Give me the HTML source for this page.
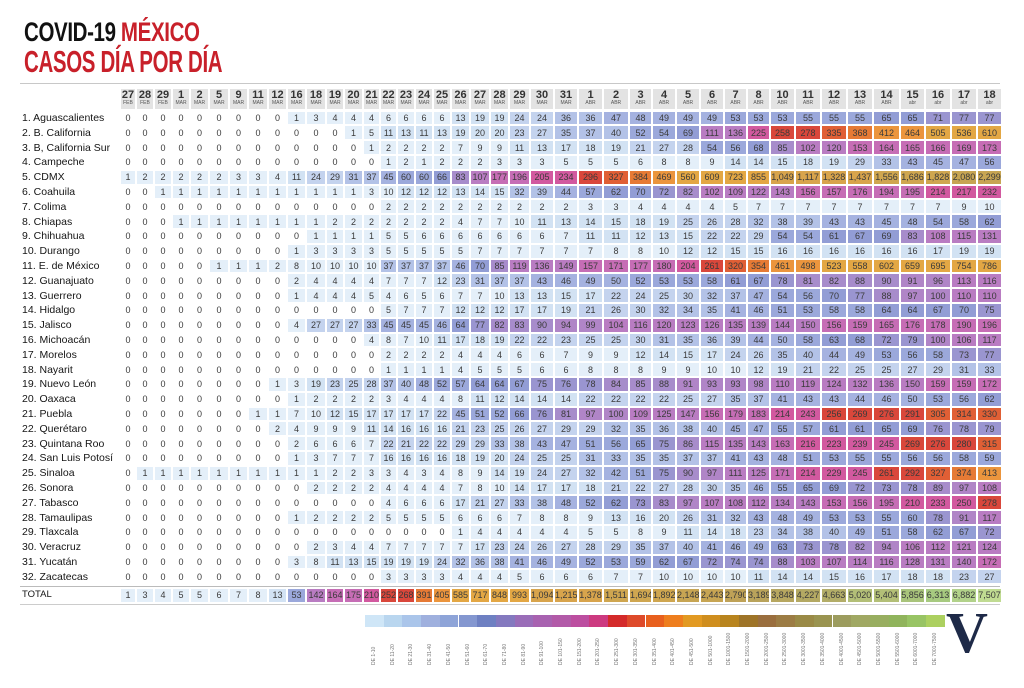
<!DOCTYPE html>
<html><head><meta charset="utf-8">
<style>
body{margin:0;width:1024px;height:688px;background:#fff;position:relative;overflow:hidden;font-family:"Liberation Sans Narrow","Liberation Sans",sans-serif}
.t1{position:absolute;left:24px;top:17px;font-family:"Liberation Sans Narrow","Liberation Sans",sans-serif;font-weight:bold;font-size:27px;line-height:30px;color:#111;transform:scaleX(0.76);transform-origin:left top;letter-spacing:-0.5px;white-space:nowrap}
.t1 span{color:#c8202a}
.t2{position:absolute;left:24px;top:45px;font-family:"Liberation Sans Narrow","Liberation Sans",sans-serif;font-weight:bold;font-size:31px;line-height:34px;color:#c8202a;transform:scaleX(0.66);transform-origin:left top;letter-spacing:-0.5px;white-space:nowrap}
.hr{position:absolute;left:20px;width:980px;height:1px;background:#c8c8c8}
table{position:absolute;left:20px;top:88px;width:982px;border-collapse:separate;border-spacing:0;table-layout:fixed}
td,th{padding:0;box-sizing:border-box;height:14.8px;border:1px solid #fff;background-clip:padding-box;text-align:center;font-size:9px;color:#3a3a3a;line-height:12px;overflow:hidden;white-space:nowrap;font-weight:normal}
th.lb{text-align:left;font-size:10.5px;color:#151515;border:none;padding-left:2px}
tr.hd th{height:22.6px;background:#e3e3e3;line-height:9px;font-weight:bold;font-size:11px;color:#333;border-bottom:2.6px solid #fff}
tr.hd th.lb{background:none}
tr.hd th small{display:block;font-size:5px;line-height:6px;font-weight:normal;color:#555}
tr.sp td{height:4px;border:none}
.a{background:#e4eff9}.b{background:#d2e2f3}.c{background:#c4d3ee}.d{background:#b3c2e7}.e{background:#a5b2e0}.f{background:#9ba8db}.g{background:#929dd5}.h{background:#9a95d0}.i{background:#a78ccb}.j{background:#b085c7}.k{background:#b97cc2}.l{background:#c66db5}.m{background:#d2599f}.n{background:#d9473b}.o{background:#e05f35}.p{background:#e67a35}.q{background:#eb953d}.r{background:#e3a744}.s{background:#d8a44c}.t{background:#cfa650}.u{background:#c7a553}.v{background:#bfa257}.w{background:#b9a35b}.x{background:#b7a760}.y{background:#b4a963}.A{background:#b3ad68}.B{background:#b3bf77}.C{background:#a9c47b}.D{background:#a7ca80}.E{background:#b2d28a}.F{background:#c0db92}
.leg{position:absolute;top:615px;height:12px;width:18.7px}
.ll{position:absolute;top:631px;width:18.7px;height:34px;font-size:5px;color:#777;writing-mode:vertical-rl;transform:rotate(180deg);text-align:left;line-height:18.7px;white-space:nowrap;overflow:hidden}
.logo{position:absolute;left:946px;top:604px;font-family:"Liberation Serif",serif;font-weight:bold;font-size:58px;line-height:58px;color:#1e2a48}
</style></head><body>
<div class="t1">COVID-19 <span>MÉXICO</span></div>
<div class="t2">CASOS DÍA POR DÍA</div>
<div class="hr" style="top:83px"></div>
<div class="hr" style="top:586px;background:#bbb"></div>
<div class="hr" style="top:604px;background:#ccc"></div>
<table>
<colgroup><col style="width:100px"><col style="width:16px"><col style="width:18px"><col style="width:18px"><col style="width:18px"><col style="width:19px"><col style="width:20px"><col style="width:19px"><col style="width:20px"><col style="width:19px"><col style="width:19px"><col style="width:20px"><col style="width:18px"><col style="width:19px"><col style="width:17px"><col style="width:17px"><col style="width:18px"><col style="width:18px"><col style="width:18px"><col style="width:19px"><col style="width:20px"><col style="width:19px"><col style="width:21px"><col style="width:24px"><col style="width:24px"><col style="width:25px"><col style="width:26px"><col style="width:23px"><col style="width:24px"><col style="width:24px"><col style="width:24px"><col style="width:23px"><col style="width:23px"><col style="width:25px"><col style="width:26px"><col style="width:26px"><col style="width:26px"><col style="width:27px"><col style="width:25px"><col style="width:26px"><col style="width:26px"><col style="width:25px"></colgroup>
<tr class="hd"><th class="lb"></th><th>27<small>FEB</small></th><th>28<small>FEB</small></th><th>29<small>FEB</small></th><th>1<small>MAR</small></th><th>2<small>MAR</small></th><th>5<small>MAR</small></th><th>9<small>MAR</small></th><th>11<small>MAR</small></th><th>12<small>MAR</small></th><th>16<small>MAR</small></th><th>18<small>MAR</small></th><th>19<small>MAR</small></th><th>20<small>MAR</small></th><th>21<small>MAR</small></th><th>22<small>MAR</small></th><th>23<small>MAR</small></th><th>24<small>MAR</small></th><th>25<small>MAR</small></th><th>26<small>MAR</small></th><th>27<small>MAR</small></th><th>28<small>MAR</small></th><th>29<small>MAR</small></th><th>30<small>MAR</small></th><th>31<small>MAR</small></th><th>1<small>ABR</small></th><th>2<small>ABR</small></th><th>3<small>ABR</small></th><th>4<small>ABR</small></th><th>5<small>ABR</small></th><th>6<small>ABR</small></th><th>7<small>ABR</small></th><th>8<small>ABR</small></th><th>10<small>ABR</small></th><th>11<small>ABR</small></th><th>12<small>ABR</small></th><th>13<small>ABR</small></th><th>14<small>ABR</small></th><th>15<small>abr</small></th><th>16<small>abr</small></th><th>17<small>abr</small></th><th>18<small>abr</small></th></tr>
<tr><th class="lb">1. Aguascalientes</th><td>0</td><td>0</td><td>0</td><td>0</td><td>0</td><td>0</td><td>0</td><td>0</td><td>0</td><td class=a>1</td><td class=a>3</td><td class=a>4</td><td class=a>4</td><td class=a>4</td><td class=a>6</td><td class=a>6</td><td class=a>6</td><td class=a>6</td><td class=b>13</td><td class=b>19</td><td class=b>19</td><td class=c>24</td><td class=c>24</td><td class=d>36</td><td class=d>36</td><td class=e>47</td><td class=e>48</td><td class=e>49</td><td class=e>49</td><td class=e>49</td><td class=f>53</td><td class=f>53</td><td class=f>53</td><td class=f>55</td><td class=f>55</td><td class=f>55</td><td class=g>65</td><td class=g>65</td><td class=h>71</td><td class=h>77</td><td class=h>77</td></tr>
<tr><th class="lb">2. B. California</th><td>0</td><td>0</td><td>0</td><td>0</td><td>0</td><td>0</td><td>0</td><td>0</td><td>0</td><td>0</td><td>0</td><td>0</td><td class=a>1</td><td class=a>5</td><td class=b>11</td><td class=b>13</td><td class=b>11</td><td class=b>13</td><td class=b>19</td><td class=b>20</td><td class=b>20</td><td class=c>23</td><td class=c>27</td><td class=d>35</td><td class=d>37</td><td class=d>40</td><td class=f>52</td><td class=f>54</td><td class=g>69</td><td class=k>111</td><td class=k>136</td><td class=m>225</td><td class=n>258</td><td class=n>278</td><td class=o>335</td><td class=p>368</td><td class=q>412</td><td class=q>464</td><td class=r>505</td><td class=r>536</td><td class=r>610</td></tr>
<tr><th class="lb">3. B, California Sur</th><td>0</td><td>0</td><td>0</td><td>0</td><td>0</td><td>0</td><td>0</td><td>0</td><td>0</td><td>0</td><td>0</td><td>0</td><td>0</td><td class=a>1</td><td class=a>2</td><td class=a>2</td><td class=a>2</td><td class=a>2</td><td class=a>7</td><td class=a>9</td><td class=a>9</td><td class=b>11</td><td class=b>13</td><td class=b>17</td><td class=b>18</td><td class=b>19</td><td class=c>21</td><td class=c>27</td><td class=c>28</td><td class=f>54</td><td class=f>56</td><td class=g>68</td><td class=i>85</td><td class=k>102</td><td class=k>120</td><td class=l>153</td><td class=l>164</td><td class=l>165</td><td class=l>166</td><td class=l>169</td><td class=l>173</td></tr>
<tr><th class="lb">4. Campeche</th><td>0</td><td>0</td><td>0</td><td>0</td><td>0</td><td>0</td><td>0</td><td>0</td><td>0</td><td>0</td><td>0</td><td>0</td><td>0</td><td>0</td><td class=a>1</td><td class=a>2</td><td class=a>1</td><td class=a>2</td><td class=a>2</td><td class=a>2</td><td class=a>3</td><td class=a>3</td><td class=a>3</td><td class=a>5</td><td class=a>5</td><td class=a>5</td><td class=a>6</td><td class=a>8</td><td class=a>8</td><td class=a>9</td><td class=b>14</td><td class=b>14</td><td class=b>15</td><td class=b>18</td><td class=b>19</td><td class=c>29</td><td class=d>33</td><td class=e>43</td><td class=e>45</td><td class=e>47</td><td class=f>56</td></tr>
<tr><th class="lb">5. CDMX</th><td class=a>1</td><td class=a>2</td><td class=a>2</td><td class=a>2</td><td class=a>2</td><td class=a>2</td><td class=a>3</td><td class=a>3</td><td class=a>4</td><td class=b>11</td><td class=c>24</td><td class=c>29</td><td class=d>31</td><td class=d>37</td><td class=e>45</td><td class=f>60</td><td class=f>60</td><td class=g>66</td><td class=i>83</td><td class=k>107</td><td class=l>177</td><td class=l>196</td><td class=m>205</td><td class=m>234</td><td class=n>296</td><td class=o>327</td><td class=p>384</td><td class=q>469</td><td class=r>560</td><td class=r>609</td><td class=r>723</td><td class=r>855</td><td class=s>1,049</td><td class=s>1,117</td><td class=s>1,328</td><td class=s>1,437</td><td class=t>1,556</td><td class=t>1,686</td><td class=t>1,828</td><td class=u>2,080</td><td class=u>2,299</td></tr>
<tr><th class="lb">6. Coahuila</th><td>0</td><td>0</td><td class=a>1</td><td class=a>1</td><td class=a>1</td><td class=a>1</td><td class=a>1</td><td class=a>1</td><td class=a>1</td><td class=a>1</td><td class=a>1</td><td class=a>1</td><td class=a>1</td><td class=a>3</td><td class=a>10</td><td class=b>12</td><td class=b>12</td><td class=b>12</td><td class=b>13</td><td class=b>14</td><td class=b>15</td><td class=d>32</td><td class=d>39</td><td class=e>44</td><td class=f>57</td><td class=g>62</td><td class=g>70</td><td class=h>72</td><td class=i>82</td><td class=k>102</td><td class=k>109</td><td class=k>122</td><td class=k>143</td><td class=l>156</td><td class=l>157</td><td class=l>176</td><td class=l>194</td><td class=l>195</td><td class=m>214</td><td class=m>217</td><td class=m>232</td></tr>
<tr><th class="lb">7. Colima</th><td>0</td><td>0</td><td>0</td><td>0</td><td>0</td><td>0</td><td>0</td><td>0</td><td>0</td><td>0</td><td>0</td><td>0</td><td>0</td><td>0</td><td class=a>2</td><td class=a>2</td><td class=a>2</td><td class=a>2</td><td class=a>2</td><td class=a>2</td><td class=a>2</td><td class=a>2</td><td class=a>2</td><td class=a>2</td><td class=a>3</td><td class=a>3</td><td class=a>4</td><td class=a>4</td><td class=a>4</td><td class=a>4</td><td class=a>5</td><td class=a>7</td><td class=a>7</td><td class=a>7</td><td class=a>7</td><td class=a>7</td><td class=a>7</td><td class=a>7</td><td class=a>7</td><td class=a>9</td><td class=a>10</td></tr>
<tr><th class="lb">8. Chiapas</th><td>0</td><td>0</td><td>0</td><td class=a>1</td><td class=a>1</td><td class=a>1</td><td class=a>1</td><td class=a>1</td><td class=a>1</td><td class=a>1</td><td class=a>1</td><td class=a>2</td><td class=a>2</td><td class=a>2</td><td class=a>2</td><td class=a>2</td><td class=a>2</td><td class=a>2</td><td class=a>4</td><td class=a>7</td><td class=a>7</td><td class=a>10</td><td class=b>11</td><td class=b>13</td><td class=b>14</td><td class=b>15</td><td class=b>18</td><td class=b>19</td><td class=c>25</td><td class=c>26</td><td class=c>28</td><td class=d>32</td><td class=d>38</td><td class=d>39</td><td class=e>43</td><td class=e>43</td><td class=e>45</td><td class=e>48</td><td class=f>54</td><td class=f>58</td><td class=g>62</td></tr>
<tr><th class="lb">9. Chihuahua</th><td>0</td><td>0</td><td>0</td><td>0</td><td>0</td><td>0</td><td>0</td><td>0</td><td>0</td><td>0</td><td class=a>1</td><td class=a>1</td><td class=a>1</td><td class=a>1</td><td class=a>5</td><td class=a>5</td><td class=a>6</td><td class=a>6</td><td class=a>6</td><td class=a>6</td><td class=a>6</td><td class=a>6</td><td class=a>6</td><td class=a>7</td><td class=b>11</td><td class=b>11</td><td class=b>12</td><td class=b>13</td><td class=b>15</td><td class=c>22</td><td class=c>22</td><td class=c>29</td><td class=f>54</td><td class=f>54</td><td class=g>61</td><td class=g>67</td><td class=g>69</td><td class=i>83</td><td class=k>108</td><td class=k>115</td><td class=k>131</td></tr>
<tr><th class="lb">10. Durango</th><td>0</td><td>0</td><td>0</td><td>0</td><td>0</td><td>0</td><td>0</td><td>0</td><td>0</td><td class=a>1</td><td class=a>3</td><td class=a>3</td><td class=a>3</td><td class=a>3</td><td class=a>5</td><td class=a>5</td><td class=a>5</td><td class=a>5</td><td class=a>5</td><td class=a>7</td><td class=a>7</td><td class=a>7</td><td class=a>7</td><td class=a>7</td><td class=a>7</td><td class=a>8</td><td class=a>8</td><td class=a>10</td><td class=b>12</td><td class=b>12</td><td class=b>15</td><td class=b>15</td><td class=b>16</td><td class=b>16</td><td class=b>16</td><td class=b>16</td><td class=b>16</td><td class=b>16</td><td class=b>17</td><td class=b>19</td><td class=b>19</td></tr>
<tr><th class="lb">11. E. de México</th><td>0</td><td>0</td><td>0</td><td>0</td><td>0</td><td class=a>1</td><td class=a>1</td><td class=a>1</td><td class=a>2</td><td class=a>8</td><td class=a>10</td><td class=a>10</td><td class=a>10</td><td class=a>10</td><td class=d>37</td><td class=d>37</td><td class=d>37</td><td class=d>37</td><td class=e>46</td><td class=g>70</td><td class=i>85</td><td class=k>119</td><td class=k>136</td><td class=k>149</td><td class=l>157</td><td class=l>171</td><td class=l>177</td><td class=l>180</td><td class=m>204</td><td class=n>261</td><td class=o>320</td><td class=p>354</td><td class=q>461</td><td class=q>498</td><td class=r>523</td><td class=r>558</td><td class=r>602</td><td class=r>659</td><td class=r>695</td><td class=r>754</td><td class=r>786</td></tr>
<tr><th class="lb">12. Guanajuato</th><td>0</td><td>0</td><td>0</td><td>0</td><td>0</td><td>0</td><td>0</td><td>0</td><td>0</td><td class=a>2</td><td class=a>4</td><td class=a>4</td><td class=a>4</td><td class=a>4</td><td class=a>7</td><td class=a>7</td><td class=a>7</td><td class=b>12</td><td class=c>23</td><td class=d>31</td><td class=d>37</td><td class=d>37</td><td class=e>43</td><td class=e>46</td><td class=e>49</td><td class=e>50</td><td class=f>52</td><td class=f>53</td><td class=f>53</td><td class=f>58</td><td class=g>61</td><td class=g>67</td><td class=h>78</td><td class=i>81</td><td class=i>82</td><td class=i>88</td><td class=i>90</td><td class=j>91</td><td class=j>96</td><td class=k>113</td><td class=k>116</td></tr>
<tr><th class="lb">13. Guerrero</th><td>0</td><td>0</td><td>0</td><td>0</td><td>0</td><td>0</td><td>0</td><td>0</td><td>0</td><td class=a>1</td><td class=a>4</td><td class=a>4</td><td class=a>4</td><td class=a>5</td><td class=a>4</td><td class=a>6</td><td class=a>5</td><td class=a>6</td><td class=a>7</td><td class=a>7</td><td class=a>10</td><td class=b>13</td><td class=b>13</td><td class=b>15</td><td class=b>17</td><td class=c>22</td><td class=c>24</td><td class=c>25</td><td class=c>30</td><td class=d>32</td><td class=d>37</td><td class=e>47</td><td class=f>54</td><td class=f>56</td><td class=g>70</td><td class=h>77</td><td class=i>88</td><td class=j>97</td><td class=j>100</td><td class=k>110</td><td class=k>110</td></tr>
<tr><th class="lb">14. Hidalgo</th><td>0</td><td>0</td><td>0</td><td>0</td><td>0</td><td>0</td><td>0</td><td>0</td><td>0</td><td>0</td><td>0</td><td>0</td><td>0</td><td>0</td><td class=a>5</td><td class=a>7</td><td class=a>7</td><td class=a>7</td><td class=b>12</td><td class=b>12</td><td class=b>12</td><td class=b>17</td><td class=b>17</td><td class=b>19</td><td class=c>21</td><td class=c>26</td><td class=c>30</td><td class=d>32</td><td class=d>34</td><td class=d>35</td><td class=e>41</td><td class=e>46</td><td class=f>51</td><td class=f>53</td><td class=f>58</td><td class=f>58</td><td class=g>64</td><td class=g>64</td><td class=g>67</td><td class=g>70</td><td class=h>75</td></tr>
<tr><th class="lb">15. Jalisco</th><td>0</td><td>0</td><td>0</td><td>0</td><td>0</td><td>0</td><td>0</td><td>0</td><td>0</td><td class=a>4</td><td class=c>27</td><td class=c>27</td><td class=c>27</td><td class=d>33</td><td class=e>45</td><td class=e>45</td><td class=e>45</td><td class=e>46</td><td class=g>64</td><td class=h>77</td><td class=i>82</td><td class=i>83</td><td class=i>90</td><td class=j>94</td><td class=j>99</td><td class=k>104</td><td class=k>116</td><td class=k>120</td><td class=k>123</td><td class=k>126</td><td class=k>135</td><td class=k>139</td><td class=k>144</td><td class=k>150</td><td class=l>156</td><td class=l>159</td><td class=l>165</td><td class=l>176</td><td class=l>178</td><td class=l>190</td><td class=l>196</td></tr>
<tr><th class="lb">16. Michoacán</th><td>0</td><td>0</td><td>0</td><td>0</td><td>0</td><td>0</td><td>0</td><td>0</td><td>0</td><td>0</td><td>0</td><td>0</td><td>0</td><td class=a>4</td><td class=a>8</td><td class=a>7</td><td class=a>10</td><td class=b>11</td><td class=b>17</td><td class=b>18</td><td class=b>19</td><td class=c>22</td><td class=c>22</td><td class=c>23</td><td class=c>25</td><td class=c>25</td><td class=c>30</td><td class=d>31</td><td class=d>35</td><td class=d>36</td><td class=d>39</td><td class=e>44</td><td class=e>50</td><td class=f>58</td><td class=g>63</td><td class=g>68</td><td class=h>72</td><td class=h>79</td><td class=j>100</td><td class=k>106</td><td class=k>117</td></tr>
<tr><th class="lb">17. Morelos</th><td>0</td><td>0</td><td>0</td><td>0</td><td>0</td><td>0</td><td>0</td><td>0</td><td>0</td><td>0</td><td>0</td><td>0</td><td>0</td><td>0</td><td class=a>2</td><td class=a>2</td><td class=a>2</td><td class=a>2</td><td class=a>4</td><td class=a>4</td><td class=a>4</td><td class=a>6</td><td class=a>6</td><td class=a>7</td><td class=a>9</td><td class=a>9</td><td class=b>12</td><td class=b>14</td><td class=b>15</td><td class=b>17</td><td class=c>24</td><td class=c>26</td><td class=d>35</td><td class=d>40</td><td class=e>44</td><td class=e>49</td><td class=f>53</td><td class=f>56</td><td class=f>58</td><td class=h>73</td><td class=h>77</td></tr>
<tr><th class="lb">18. Nayarit</th><td>0</td><td>0</td><td>0</td><td>0</td><td>0</td><td>0</td><td>0</td><td>0</td><td>0</td><td>0</td><td>0</td><td>0</td><td>0</td><td>0</td><td class=a>1</td><td class=a>1</td><td class=a>1</td><td class=a>1</td><td class=a>4</td><td class=a>5</td><td class=a>5</td><td class=a>5</td><td class=a>6</td><td class=a>6</td><td class=a>8</td><td class=a>8</td><td class=a>8</td><td class=a>9</td><td class=a>9</td><td class=a>10</td><td class=a>10</td><td class=b>12</td><td class=b>19</td><td class=c>21</td><td class=c>22</td><td class=c>25</td><td class=c>25</td><td class=c>27</td><td class=c>29</td><td class=d>31</td><td class=d>33</td></tr>
<tr><th class="lb">19. Nuevo León</th><td>0</td><td>0</td><td>0</td><td>0</td><td>0</td><td>0</td><td>0</td><td>0</td><td class=a>1</td><td class=a>3</td><td class=b>19</td><td class=c>23</td><td class=c>25</td><td class=c>28</td><td class=d>37</td><td class=d>40</td><td class=e>48</td><td class=f>52</td><td class=f>57</td><td class=g>64</td><td class=g>64</td><td class=g>67</td><td class=h>75</td><td class=h>76</td><td class=h>78</td><td class=i>84</td><td class=i>85</td><td class=i>88</td><td class=j>91</td><td class=j>93</td><td class=j>93</td><td class=j>98</td><td class=k>110</td><td class=k>119</td><td class=k>124</td><td class=k>132</td><td class=k>136</td><td class=k>150</td><td class=l>159</td><td class=l>159</td><td class=l>172</td></tr>
<tr><th class="lb">20. Oaxaca</th><td>0</td><td>0</td><td>0</td><td>0</td><td>0</td><td>0</td><td>0</td><td>0</td><td>0</td><td class=a>1</td><td class=a>2</td><td class=a>2</td><td class=a>2</td><td class=a>2</td><td class=a>3</td><td class=a>4</td><td class=a>4</td><td class=a>4</td><td class=a>8</td><td class=b>11</td><td class=b>12</td><td class=b>14</td><td class=b>14</td><td class=b>14</td><td class=c>22</td><td class=c>22</td><td class=c>22</td><td class=c>22</td><td class=c>25</td><td class=c>27</td><td class=d>35</td><td class=d>37</td><td class=e>41</td><td class=e>43</td><td class=e>43</td><td class=e>44</td><td class=e>46</td><td class=e>50</td><td class=f>53</td><td class=f>56</td><td class=g>62</td></tr>
<tr><th class="lb">21. Puebla</th><td>0</td><td>0</td><td>0</td><td>0</td><td>0</td><td>0</td><td>0</td><td class=a>1</td><td class=a>1</td><td class=a>7</td><td class=a>10</td><td class=b>12</td><td class=b>15</td><td class=b>17</td><td class=b>17</td><td class=b>17</td><td class=b>17</td><td class=c>22</td><td class=e>45</td><td class=f>51</td><td class=f>52</td><td class=g>66</td><td class=h>76</td><td class=i>81</td><td class=j>97</td><td class=j>100</td><td class=k>109</td><td class=k>125</td><td class=k>147</td><td class=l>156</td><td class=l>179</td><td class=l>183</td><td class=m>214</td><td class=m>243</td><td class=n>256</td><td class=n>269</td><td class=n>276</td><td class=n>291</td><td class=o>305</td><td class=o>314</td><td class=o>330</td></tr>
<tr><th class="lb">22. Querétaro</th><td>0</td><td>0</td><td>0</td><td>0</td><td>0</td><td>0</td><td>0</td><td>0</td><td class=a>2</td><td class=a>4</td><td class=a>9</td><td class=a>9</td><td class=a>9</td><td class=b>11</td><td class=b>14</td><td class=b>16</td><td class=b>16</td><td class=b>16</td><td class=c>21</td><td class=c>23</td><td class=c>25</td><td class=c>26</td><td class=c>27</td><td class=c>29</td><td class=c>29</td><td class=d>32</td><td class=d>35</td><td class=d>36</td><td class=d>38</td><td class=d>40</td><td class=e>45</td><td class=e>47</td><td class=f>55</td><td class=f>57</td><td class=g>61</td><td class=g>61</td><td class=g>65</td><td class=g>69</td><td class=h>76</td><td class=h>78</td><td class=h>79</td></tr>
<tr><th class="lb">23. Quintana Roo</th><td>0</td><td>0</td><td>0</td><td>0</td><td>0</td><td>0</td><td>0</td><td>0</td><td>0</td><td class=a>2</td><td class=a>6</td><td class=a>6</td><td class=a>6</td><td class=a>7</td><td class=c>22</td><td class=c>21</td><td class=c>22</td><td class=c>22</td><td class=c>29</td><td class=c>29</td><td class=d>33</td><td class=d>38</td><td class=e>43</td><td class=e>47</td><td class=f>51</td><td class=f>56</td><td class=g>65</td><td class=h>75</td><td class=i>86</td><td class=k>115</td><td class=k>135</td><td class=k>143</td><td class=l>163</td><td class=m>216</td><td class=m>223</td><td class=m>239</td><td class=m>245</td><td class=n>269</td><td class=n>276</td><td class=n>280</td><td class=o>315</td></tr>
<tr><th class="lb">24. San Luis Potosí</th><td>0</td><td>0</td><td>0</td><td>0</td><td>0</td><td>0</td><td>0</td><td>0</td><td>0</td><td class=a>1</td><td class=a>3</td><td class=a>7</td><td class=a>7</td><td class=a>7</td><td class=b>16</td><td class=b>16</td><td class=b>16</td><td class=b>16</td><td class=b>18</td><td class=b>19</td><td class=b>20</td><td class=c>24</td><td class=c>25</td><td class=c>25</td><td class=d>31</td><td class=d>33</td><td class=d>35</td><td class=d>35</td><td class=d>37</td><td class=d>37</td><td class=e>41</td><td class=e>43</td><td class=e>48</td><td class=f>51</td><td class=f>53</td><td class=f>55</td><td class=f>55</td><td class=f>56</td><td class=f>56</td><td class=f>58</td><td class=f>59</td></tr>
<tr><th class="lb">25. Sinaloa</th><td>0</td><td class=a>1</td><td class=a>1</td><td class=a>1</td><td class=a>1</td><td class=a>1</td><td class=a>1</td><td class=a>1</td><td class=a>1</td><td class=a>1</td><td class=a>1</td><td class=a>2</td><td class=a>2</td><td class=a>3</td><td class=a>3</td><td class=a>4</td><td class=a>3</td><td class=a>4</td><td class=a>8</td><td class=a>9</td><td class=b>14</td><td class=b>19</td><td class=c>24</td><td class=c>27</td><td class=d>32</td><td class=e>42</td><td class=f>51</td><td class=h>75</td><td class=i>90</td><td class=j>97</td><td class=k>111</td><td class=k>125</td><td class=l>171</td><td class=m>214</td><td class=m>229</td><td class=m>245</td><td class=n>261</td><td class=n>292</td><td class=o>327</td><td class=p>374</td><td class=q>413</td></tr>
<tr><th class="lb">26. Sonora</th><td>0</td><td>0</td><td>0</td><td>0</td><td>0</td><td>0</td><td>0</td><td>0</td><td>0</td><td>0</td><td class=a>2</td><td class=a>2</td><td class=a>2</td><td class=a>2</td><td class=a>4</td><td class=a>4</td><td class=a>4</td><td class=a>4</td><td class=a>7</td><td class=a>8</td><td class=a>10</td><td class=b>14</td><td class=b>17</td><td class=b>17</td><td class=b>18</td><td class=c>21</td><td class=c>22</td><td class=c>27</td><td class=c>28</td><td class=c>30</td><td class=d>35</td><td class=e>46</td><td class=f>55</td><td class=g>65</td><td class=g>69</td><td class=h>72</td><td class=h>73</td><td class=h>78</td><td class=i>89</td><td class=j>97</td><td class=k>108</td></tr>
<tr><th class="lb">27. Tabasco</th><td>0</td><td>0</td><td>0</td><td>0</td><td>0</td><td>0</td><td>0</td><td>0</td><td>0</td><td>0</td><td>0</td><td>0</td><td>0</td><td>0</td><td class=a>4</td><td class=a>6</td><td class=a>6</td><td class=a>6</td><td class=b>17</td><td class=c>21</td><td class=c>27</td><td class=d>33</td><td class=d>38</td><td class=e>48</td><td class=f>52</td><td class=g>62</td><td class=h>73</td><td class=i>83</td><td class=j>97</td><td class=k>107</td><td class=k>108</td><td class=k>112</td><td class=k>134</td><td class=k>143</td><td class=l>153</td><td class=l>156</td><td class=l>195</td><td class=m>210</td><td class=m>233</td><td class=m>250</td><td class=n>278</td></tr>
<tr><th class="lb">28. Tamaulipas</th><td>0</td><td>0</td><td>0</td><td>0</td><td>0</td><td>0</td><td>0</td><td>0</td><td>0</td><td class=a>1</td><td class=a>2</td><td class=a>2</td><td class=a>2</td><td class=a>2</td><td class=a>5</td><td class=a>5</td><td class=a>5</td><td class=a>5</td><td class=a>6</td><td class=a>6</td><td class=a>6</td><td class=a>7</td><td class=a>8</td><td class=a>8</td><td class=a>9</td><td class=b>13</td><td class=b>16</td><td class=b>20</td><td class=c>26</td><td class=d>31</td><td class=d>32</td><td class=e>43</td><td class=e>48</td><td class=e>49</td><td class=f>53</td><td class=f>53</td><td class=f>55</td><td class=f>60</td><td class=h>78</td><td class=j>91</td><td class=k>117</td></tr>
<tr><th class="lb">29. Tlaxcala</th><td>0</td><td>0</td><td>0</td><td>0</td><td>0</td><td>0</td><td>0</td><td>0</td><td>0</td><td>0</td><td>0</td><td>0</td><td>0</td><td>0</td><td>0</td><td>0</td><td>0</td><td>0</td><td class=a>1</td><td class=a>4</td><td class=a>4</td><td class=a>4</td><td class=a>4</td><td class=a>4</td><td class=a>5</td><td class=a>5</td><td class=a>8</td><td class=a>9</td><td class=b>11</td><td class=b>14</td><td class=b>18</td><td class=c>23</td><td class=d>34</td><td class=d>38</td><td class=d>40</td><td class=e>49</td><td class=f>51</td><td class=f>58</td><td class=g>62</td><td class=g>67</td><td class=h>72</td></tr>
<tr><th class="lb">30. Veracruz</th><td>0</td><td>0</td><td>0</td><td>0</td><td>0</td><td>0</td><td>0</td><td>0</td><td>0</td><td>0</td><td class=a>2</td><td class=a>3</td><td class=a>4</td><td class=a>4</td><td class=a>7</td><td class=a>7</td><td class=a>7</td><td class=a>7</td><td class=a>7</td><td class=b>17</td><td class=c>23</td><td class=c>24</td><td class=c>26</td><td class=c>27</td><td class=c>28</td><td class=c>29</td><td class=d>35</td><td class=d>37</td><td class=d>40</td><td class=e>41</td><td class=e>46</td><td class=e>49</td><td class=g>63</td><td class=h>73</td><td class=h>78</td><td class=i>82</td><td class=j>94</td><td class=k>106</td><td class=k>112</td><td class=k>121</td><td class=k>124</td></tr>
<tr><th class="lb">31. Yucatán</th><td>0</td><td>0</td><td>0</td><td>0</td><td>0</td><td>0</td><td>0</td><td>0</td><td>0</td><td class=a>3</td><td class=a>8</td><td class=b>11</td><td class=b>13</td><td class=b>15</td><td class=b>19</td><td class=b>19</td><td class=b>19</td><td class=c>24</td><td class=d>32</td><td class=d>36</td><td class=d>38</td><td class=e>41</td><td class=e>46</td><td class=e>49</td><td class=f>52</td><td class=f>53</td><td class=f>59</td><td class=g>62</td><td class=g>67</td><td class=h>72</td><td class=h>74</td><td class=h>74</td><td class=i>88</td><td class=k>103</td><td class=k>107</td><td class=k>114</td><td class=k>116</td><td class=k>128</td><td class=k>131</td><td class=k>140</td><td class=l>172</td></tr>
<tr><th class="lb">32. Zacatecas</th><td>0</td><td>0</td><td>0</td><td>0</td><td>0</td><td>0</td><td>0</td><td>0</td><td>0</td><td>0</td><td>0</td><td>0</td><td>0</td><td>0</td><td class=a>3</td><td class=a>3</td><td class=a>3</td><td class=a>3</td><td class=a>4</td><td class=a>4</td><td class=a>4</td><td class=a>5</td><td class=a>6</td><td class=a>6</td><td class=a>6</td><td class=a>7</td><td class=a>7</td><td class=a>10</td><td class=a>10</td><td class=a>10</td><td class=a>10</td><td class=b>11</td><td class=b>14</td><td class=b>14</td><td class=b>15</td><td class=b>16</td><td class=b>17</td><td class=b>18</td><td class=b>18</td><td class=c>23</td><td class=c>27</td></tr>
<tr class="sp"><td></td><td></td><td></td><td></td><td></td><td></td><td></td><td></td><td></td><td></td><td></td><td></td><td></td><td></td><td></td><td></td><td></td><td></td><td></td><td></td><td></td><td></td><td></td><td></td><td></td><td></td><td></td><td></td><td></td><td></td><td></td><td></td><td></td><td></td><td></td><td></td><td></td><td></td><td></td><td></td><td></td><td></td></tr>
<tr><th class="lb" style="font-size:9.5px">TOTAL</th><td class=a>1</td><td class=a>3</td><td class=a>4</td><td class=a>5</td><td class=a>5</td><td class=a>6</td><td class=a>7</td><td class=a>8</td><td class=b>13</td><td class=f>53</td><td class=k>142</td><td class=l>164</td><td class=l>175</td><td class=m>210</td><td class=n>252</td><td class=n>268</td><td class=p>391</td><td class=q>405</td><td class=r>585</td><td class=r>717</td><td class=r>848</td><td class=r>993</td><td class=s>1,094</td><td class=s>1,215</td><td class=s>1,378</td><td class=t>1,511</td><td class=t>1,694</td><td class=t>1,892</td><td class=u>2,148</td><td class=u>2,443</td><td class=v>2,790</td><td class=w>3,189</td><td class=x>3,848</td><td class=y>4,227</td><td class=A>4,663</td><td class=B>5,020</td><td class=B>5,404</td><td class=C>5,856</td><td class=D>6,313</td><td class=E>6,882</td><td class=F>7,507</td></tr>
</table>

<div class="leg" style="left:365px;background:#cfe6f7"></div><div class="leg" style="left:383.7px;background:#b9d6ef"></div><div class="leg" style="left:402.4px;background:#aac5ea"></div><div class="leg" style="left:421.1px;background:#9fb0de"></div><div class="leg" style="left:439.8px;background:#8ea4d8"></div><div class="leg" style="left:458.5px;background:#8497d0"></div><div class="leg" style="left:477.2px;background:#6e80c2"></div><div class="leg" style="left:495.9px;background:#8479bf"></div><div class="leg" style="left:514.6px;background:#9a6db8"></div><div class="leg" style="left:533.3px;background:#a862b0"></div><div class="leg" style="left:552px;background:#b25aa8"></div><div class="leg" style="left:570.7px;background:#bc4ea0"></div><div class="leg" style="left:589.4px;background:#cc3a80"></div><div class="leg" style="left:608.1px;background:#d42a2a"></div><div class="leg" style="left:626.8px;background:#de4a2a"></div><div class="leg" style="left:645.5px;background:#e8601e"></div><div class="leg" style="left:664.2px;background:#ee7e1e"></div><div class="leg" style="left:682.9px;background:#e29a22"></div><div class="leg" style="left:701.6px;background:#cf8e1e"></div><div class="leg" style="left:720.3px;background:#b8841e"></div><div class="leg" style="left:739px;background:#9e7428"></div><div class="leg" style="left:757.7px;background:#9a6e3e"></div><div class="leg" style="left:776.4px;background:#9c7c44"></div><div class="leg" style="left:795.1px;background:#9a8a46"></div><div class="leg" style="left:813.8px;background:#9a9450"></div><div class="leg" style="left:832.5px;background:#9c9c5e"></div><div class="leg" style="left:851.2px;background:#a0a863"></div><div class="leg" style="left:869.9px;background:#98ae60"></div><div class="leg" style="left:888.6px;background:#90b45c"></div><div class="leg" style="left:907.3px;background:#98c464"></div><div class="leg" style="left:926px;background:#acd060"></div>

<div class="ll" style="left:365px">DE 1-10</div><div class="ll" style="left:383.7px">DE 11-20</div><div class="ll" style="left:402.4px">DE 21-30</div><div class="ll" style="left:421.1px">DE 31-40</div><div class="ll" style="left:439.8px">DE 41-50</div><div class="ll" style="left:458.5px">DE 51-60</div><div class="ll" style="left:477.2px">DE 61-70</div><div class="ll" style="left:495.9px">DE 71-80</div><div class="ll" style="left:514.6px">DE 81-90</div><div class="ll" style="left:533.3px">DE 91-100</div><div class="ll" style="left:552px">DE 101-150</div><div class="ll" style="left:570.7px">DE 151-200</div><div class="ll" style="left:589.4px">DE 201-250</div><div class="ll" style="left:608.1px">DE 251-300</div><div class="ll" style="left:626.8px">DE 301-350</div><div class="ll" style="left:645.5px">DE 351-400</div><div class="ll" style="left:664.2px">DE 401-450</div><div class="ll" style="left:682.9px">DE 451-500</div><div class="ll" style="left:701.6px">DE 501-1000</div><div class="ll" style="left:720.3px">DE 1001-1500</div><div class="ll" style="left:739px">DE 1501-2000</div><div class="ll" style="left:757.7px">DE 2001-2500</div><div class="ll" style="left:776.4px">DE 2501-3000</div><div class="ll" style="left:795.1px">DE 3001-3500</div><div class="ll" style="left:813.8px">DE 3501-4000</div><div class="ll" style="left:832.5px">DE 4001-4500</div><div class="ll" style="left:851.2px">DE 4501-5000</div><div class="ll" style="left:869.9px">DE 5001-5500</div><div class="ll" style="left:888.6px">DE 5501-6000</div><div class="ll" style="left:907.3px">DE 6001-7000</div><div class="ll" style="left:926px">DE 7001-7500</div>

<div class="logo">V</div>
</body></html>
